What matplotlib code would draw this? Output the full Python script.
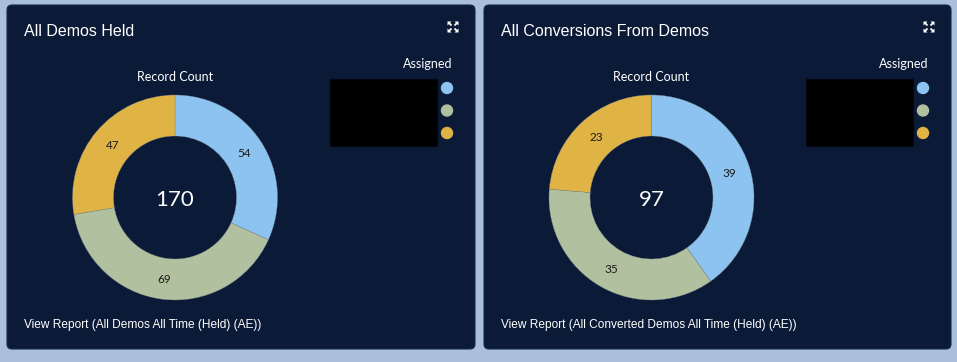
import matplotlib
matplotlib.use('Agg')
import matplotlib.pyplot as plt
from matplotlib.patches import FancyBboxPatch, Rectangle, Circle, Polygon
import numpy as np

# ---- data ----
titles = ['All Demos Held', 'All Conversions From Demos']
reports = ['View Report (All Demos All Time (Held) (AE))',
           'View Report (All Converted Demos All Time (Held) (AE))']
values_left = [54, 69, 47]
values_right = [39, 35, 23]
seg_colors = ['#8cc3f0', '#b1c09e', '#e0b444']

W, H = 957, 362
BG = '#a9bfdc'
PANEL = '#0b1a37'
SANS = ['Liberation Sans', 'DejaVu Sans']
UI = ['Lato', 'DejaVu Sans']

fig = plt.figure(figsize=(W / 100, H / 100), dpi=100)
fig.patch.set_facecolor(BG)
ax = fig.add_axes([0, 0, 1, 1])
ax.set_facecolor(BG)


def Y(py):
    # pixel row (top-down) -> data y (bottom-up)
    return H - py


def expand_icon(ax, cx, cy):
    s = 5.5
    for dx, dy in [(-1, -1), (1, -1), (-1, 1), (1, 1)]:
        tip = (cx + dx * s, Y(cy + dy * s))
        a = (cx + dx * (s - 4), Y(cy + dy * s))
        b = (cx + dx * s, Y(cy + dy * (s - 4)))
        ax.add_patch(Polygon([tip, a, b], closed=True, color='white', lw=0, zorder=5))
        ax.plot([cx + dx * 1.5, cx + dx * (s - 1)], [Y(cy + dy * 1.5), Y(cy + dy * (s - 1))],
                color='white', lw=1.3, zorder=5, solid_capstyle='butt')


def panel(ax, x0, x1, values, title, report):
    cx = (x0 + x1) / 2 - 66
    # card
    ax.add_patch(FancyBboxPatch((x0, Y(349)), x1 - x0, 344,
                                boxstyle='round,pad=0,rounding_size=5',
                                fc=PANEL, ec='#1b2a47', lw=0.8, zorder=1))
    ax.text(x0 + 17, Y(31), title, color='white', fontsize=11.5, family=SANS,
            ha='left', va='center', zorder=3)
    ax.text(x0 + 17, Y(325), report, color='white', fontsize=8.6, family=SANS,
            ha='left', va='center', zorder=3)
    expand_icon(ax, x1 - 22, 27)

    ax.text(cx, Y(77), 'Record Count', color='white', fontsize=9, family=UI,
            ha='center', va='center', zorder=3)

    # donut
    r_out = 102.5
    wedges, _ = ax.pie(values, colors=seg_colors, startangle=90, counterclock=False,
                       radius=r_out, center=(cx, Y(197.5)), frame=True,
                       wedgeprops=dict(width=r_out * 0.4, edgecolor='#7d8a90', linewidth=0.25))
    for w in wedges:
        w.set_zorder(2)
    for w, v in zip(wedges, values):
        ang = np.deg2rad((w.theta1 + w.theta2) / 2)
        rr = r_out * 0.8
        ax.text(cx + rr * np.cos(ang), Y(198) + rr * np.sin(ang), str(v),
                color='#1a1a1a', fontsize=8.5, family=UI, ha='center', va='center', zorder=3)
    ax.text(cx, Y(200), str(sum(values)), color='white', fontsize=16, family=UI,
            ha='center', va='center', zorder=3)

    # legend
    ax.text(x1 - 23, Y(64), 'Assigned', color='white', fontsize=9, family=UI,
            ha='right', va='center', zorder=3)
    ax.add_patch(Rectangle((x1 - 145, Y(146)), 107, 67, fc='black', ec='#05070d',
                           lw=0.8, zorder=3))
    for i, c in enumerate(seg_colors):
        ax.add_patch(Circle((x1 - 28, Y(88 + 22.5 * i)), 5.5, color=c, zorder=3))


panel(ax, 7, 475, values_left, titles[0], reports[0])
panel(ax, 484, 951, values_right, titles[1], reports[1])

ax.set_xlim(0, W)
ax.set_ylim(0, H)
ax.set_aspect('auto')
ax.axis('off')

fig.savefig('out.png', dpi=100, facecolor=BG)
